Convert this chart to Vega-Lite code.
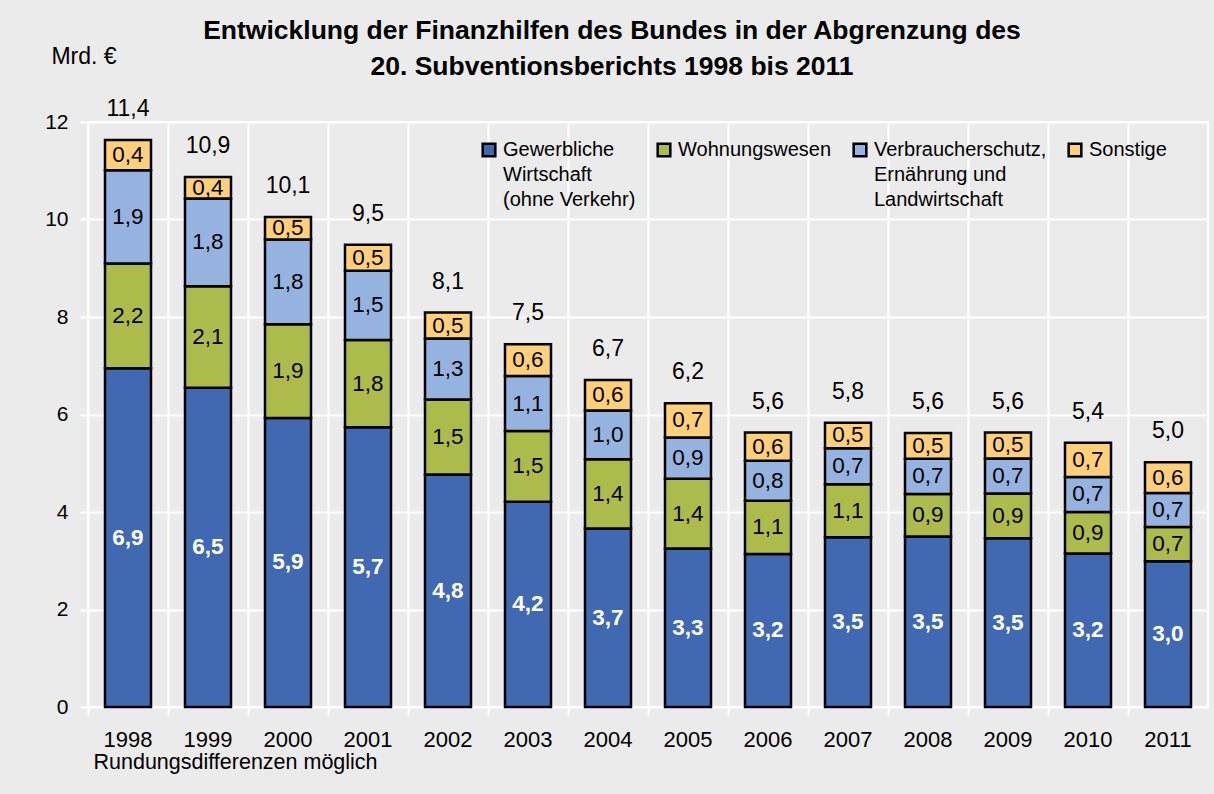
{
  "$schema": "https://vega.github.io/schema/vega-lite/v6.json",
  "width": 1120,
  "height": 585,
  "autosize": "none",
  "padding": {"left": 88, "top": 122, "right": 6, "bottom": 87},
  "background": "#EBEBEB",
  "config": {
    "font": "Liberation Sans",
    "view": {"stroke": "white", "strokeWidth": 2},
    "style": {"guide-label": {"lineHeight": 25}}
  },
  "title": {
    "text": ["Entwicklung der Finanzhilfen des Bundes in der Abgrenzung des", "20. Subventionsberichts 1998 bis 2011"],
    "fontSize": 26.5,
    "fontWeight": "bold",
    "lineHeight": 36,
    "anchor": "middle",
    "offset": 0,
    "dx": -36,
    "dy": 35,
    "color": "black"
  },
  "datasets": {
    "main": [
      {"year": "1998", "cat": "Gewerbliche Wirtschaft (ohne Verkehr)", "k": 1, "value": 6.95, "label": "6,9"},
      {"year": "1998", "cat": "Wohnungswesen", "k": 2, "value": 2.15, "label": "2,2"},
      {"year": "1998", "cat": "Verbraucherschutz, Ernährung und Landwirtschaft", "k": 3, "value": 1.91, "label": "1,9"},
      {"year": "1998", "cat": "Sonstige", "k": 4, "value": 0.62, "label": "0,4"},
      {"year": "1999", "cat": "Gewerbliche Wirtschaft (ohne Verkehr)", "k": 1, "value": 6.55, "label": "6,5"},
      {"year": "1999", "cat": "Wohnungswesen", "k": 2, "value": 2.08, "label": "2,1"},
      {"year": "1999", "cat": "Verbraucherschutz, Ernährung und Landwirtschaft", "k": 3, "value": 1.80, "label": "1,8"},
      {"year": "1999", "cat": "Sonstige", "k": 4, "value": 0.44, "label": "0,4"},
      {"year": "2000", "cat": "Gewerbliche Wirtschaft (ohne Verkehr)", "k": 1, "value": 5.93, "label": "5,9"},
      {"year": "2000", "cat": "Wohnungswesen", "k": 2, "value": 1.92, "label": "1,9"},
      {"year": "2000", "cat": "Verbraucherschutz, Ernährung und Landwirtschaft", "k": 3, "value": 1.74, "label": "1,8"},
      {"year": "2000", "cat": "Sonstige", "k": 4, "value": 0.46, "label": "0,5"},
      {"year": "2001", "cat": "Gewerbliche Wirtschaft (ohne Verkehr)", "k": 1, "value": 5.74, "label": "5,7"},
      {"year": "2001", "cat": "Wohnungswesen", "k": 2, "value": 1.79, "label": "1,8"},
      {"year": "2001", "cat": "Verbraucherschutz, Ernährung und Landwirtschaft", "k": 3, "value": 1.42, "label": "1,5"},
      {"year": "2001", "cat": "Sonstige", "k": 4, "value": 0.53, "label": "0,5"},
      {"year": "2002", "cat": "Gewerbliche Wirtschaft (ohne Verkehr)", "k": 1, "value": 4.77, "label": "4,8"},
      {"year": "2002", "cat": "Wohnungswesen", "k": 2, "value": 1.54, "label": "1,5"},
      {"year": "2002", "cat": "Verbraucherschutz, Ernährung und Landwirtschaft", "k": 3, "value": 1.25, "label": "1,3"},
      {"year": "2002", "cat": "Sonstige", "k": 4, "value": 0.53, "label": "0,5"},
      {"year": "2003", "cat": "Gewerbliche Wirtschaft (ohne Verkehr)", "k": 1, "value": 4.21, "label": "4,2"},
      {"year": "2003", "cat": "Wohnungswesen", "k": 2, "value": 1.45, "label": "1,5"},
      {"year": "2003", "cat": "Verbraucherschutz, Ernährung und Landwirtschaft", "k": 3, "value": 1.13, "label": "1,1"},
      {"year": "2003", "cat": "Sonstige", "k": 4, "value": 0.65, "label": "0,6"},
      {"year": "2004", "cat": "Gewerbliche Wirtschaft (ohne Verkehr)", "k": 1, "value": 3.66, "label": "3,7"},
      {"year": "2004", "cat": "Wohnungswesen", "k": 2, "value": 1.42, "label": "1,4"},
      {"year": "2004", "cat": "Verbraucherschutz, Ernährung und Landwirtschaft", "k": 3, "value": 1.00, "label": "1,0"},
      {"year": "2004", "cat": "Sonstige", "k": 4, "value": 0.63, "label": "0,6"},
      {"year": "2005", "cat": "Gewerbliche Wirtschaft (ohne Verkehr)", "k": 1, "value": 3.25, "label": "3,3"},
      {"year": "2005", "cat": "Wohnungswesen", "k": 2, "value": 1.43, "label": "1,4"},
      {"year": "2005", "cat": "Verbraucherschutz, Ernährung und Landwirtschaft", "k": 3, "value": 0.85, "label": "0,9"},
      {"year": "2005", "cat": "Sonstige", "k": 4, "value": 0.70, "label": "0,7"},
      {"year": "2006", "cat": "Gewerbliche Wirtschaft (ohne Verkehr)", "k": 1, "value": 3.14, "label": "3,2"},
      {"year": "2006", "cat": "Wohnungswesen", "k": 2, "value": 1.09, "label": "1,1"},
      {"year": "2006", "cat": "Verbraucherschutz, Ernährung und Landwirtschaft", "k": 3, "value": 0.82, "label": "0,8"},
      {"year": "2006", "cat": "Sonstige", "k": 4, "value": 0.58, "label": "0,6"},
      {"year": "2007", "cat": "Gewerbliche Wirtschaft (ohne Verkehr)", "k": 1, "value": 3.48, "label": "3,5"},
      {"year": "2007", "cat": "Wohnungswesen", "k": 2, "value": 1.09, "label": "1,1"},
      {"year": "2007", "cat": "Verbraucherschutz, Ernährung und Landwirtschaft", "k": 3, "value": 0.74, "label": "0,7"},
      {"year": "2007", "cat": "Sonstige", "k": 4, "value": 0.52, "label": "0,5"},
      {"year": "2008", "cat": "Gewerbliche Wirtschaft (ohne Verkehr)", "k": 1, "value": 3.50, "label": "3,5"},
      {"year": "2008", "cat": "Wohnungswesen", "k": 2, "value": 0.87, "label": "0,9"},
      {"year": "2008", "cat": "Verbraucherschutz, Ernährung und Landwirtschaft", "k": 3, "value": 0.72, "label": "0,7"},
      {"year": "2008", "cat": "Sonstige", "k": 4, "value": 0.53, "label": "0,5"},
      {"year": "2009", "cat": "Gewerbliche Wirtschaft (ohne Verkehr)", "k": 1, "value": 3.46, "label": "3,5"},
      {"year": "2009", "cat": "Wohnungswesen", "k": 2, "value": 0.92, "label": "0,9"},
      {"year": "2009", "cat": "Verbraucherschutz, Ernährung und Landwirtschaft", "k": 3, "value": 0.72, "label": "0,7"},
      {"year": "2009", "cat": "Sonstige", "k": 4, "value": 0.53, "label": "0,5"},
      {"year": "2010", "cat": "Gewerbliche Wirtschaft (ohne Verkehr)", "k": 1, "value": 3.15, "label": "3,2"},
      {"year": "2010", "cat": "Wohnungswesen", "k": 2, "value": 0.85, "label": "0,9"},
      {"year": "2010", "cat": "Verbraucherschutz, Ernährung und Landwirtschaft", "k": 3, "value": 0.72, "label": "0,7"},
      {"year": "2010", "cat": "Sonstige", "k": 4, "value": 0.70, "label": "0,7"},
      {"year": "2011", "cat": "Gewerbliche Wirtschaft (ohne Verkehr)", "k": 1, "value": 2.99, "label": "3,0"},
      {"year": "2011", "cat": "Wohnungswesen", "k": 2, "value": 0.70, "label": "0,7"},
      {"year": "2011", "cat": "Verbraucherschutz, Ernährung und Landwirtschaft", "k": 3, "value": 0.70, "label": "0,7"},
      {"year": "2011", "cat": "Sonstige", "k": 4, "value": 0.63, "label": "0,6"}
    ],
    "totals": [
      {"year": "1998", "tl": "11,4"},
      {"year": "1999", "tl": "10,9"},
      {"year": "2000", "tl": "10,1"},
      {"year": "2001", "tl": "9,5"},
      {"year": "2002", "tl": "8,1"},
      {"year": "2003", "tl": "7,5"},
      {"year": "2004", "tl": "6,7"},
      {"year": "2005", "tl": "6,2"},
      {"year": "2006", "tl": "5,6"},
      {"year": "2007", "tl": "5,8"},
      {"year": "2008", "tl": "5,6"},
      {"year": "2009", "tl": "5,6"},
      {"year": "2010", "tl": "5,4"},
      {"year": "2011", "tl": "5,0"}
    ]
  },
  "data": {"name": "main"},
  "encoding": {
    "x": {
      "field": "year",
      "type": "ordinal",
      "scale": {"paddingInner": 0, "paddingOuter": 0},
      "axis": {
        "title": "Rundungsdifferenzen möglich",
        "titleFontSize": 21.5,
        "titleFontWeight": "normal",
        "titleColor": "black",
        "titleAlign": "left",
        "titleAnchor": null,
        "titleX": 5,
        "titleY": 61,
        "titleBaseline": "alphabetic",
        "labelAngle": 0,
        "labelFontSize": 22,
        "labelColor": "black",
        "labelPadding": 13,
        "bandPosition": 0,
        "tickSize": 9,
        "tickColor": "white",
        "tickWidth": 2,
        "grid": true,
        "gridColor": "white",
        "gridWidth": 2,
        "gridOpacity": 1,
        "domain": false
      }
    }
  },
  "layer": [
    {
      "mark": {"type": "bar", "width": {"band": 0.575}, "stroke": "black", "strokeWidth": 2.5},
      "encoding": {
        "y": {
          "field": "value",
          "type": "quantitative",
          "stack": "zero",
          "scale": {"domain": [0, 12], "nice": false},
          "axis": {
            "values": [0, 2, 4, 6, 8, 10, 12],
            "title": "Mrd. €",
            "titleAngle": 0,
            "titleAlign": "center",
            "titleBaseline": "alphabetic",
            "titleX": -4.5,
            "titleY": -59,
            "titleFontSize": 23,
            "titleFontWeight": "normal",
            "titleColor": "black",
            "labelFontSize": 21,
            "labelColor": "black",
            "labelPadding": 12,
            "tickSize": 8,
            "tickColor": "white",
            "tickWidth": 2,
            "grid": true,
            "gridColor": "white",
            "gridWidth": 2,
            "gridOpacity": 1,
            "domain": false
          }
        },
        "color": {
          "field": "cat",
          "type": "nominal",
          "sort": ["Gewerbliche Wirtschaft (ohne Verkehr)", "Wohnungswesen", "Verbraucherschutz, Ernährung und Landwirtschaft", "Sonstige"],
          "scale": {
            "domain": ["Gewerbliche Wirtschaft (ohne Verkehr)", "Wohnungswesen", "Verbraucherschutz, Ernährung und Landwirtschaft", "Sonstige"],
            "range": ["#4169B2", "#ADBA4C", "#95B3DE", "#FFCF79"]
          },
          "legend": {
            "title": null,
            "orient": "none",
            "legendX": 391,
            "legendY": 18,
            "direction": "horizontal",
            "columns": 4,
            "gridAlign": "none",
            "columnPadding": 16,
            "symbolType": "square",
            "symbolSize": 160,
            "symbolStrokeColor": "black",
            "symbolStrokeWidth": 2.5,
            "symbolOpacity": 1,
            "labelFontSize": 20,
            "labelColor": "black",
            "labelOffset": 4,
            "labelLimit": 400,
            "labelBaseline": "middle",
            "labelExpr": "datum.label == 'Gewerbliche Wirtschaft (ohne Verkehr)' ? ['Gewerbliche', 'Wirtschaft', '(ohne Verkehr)'] : datum.label == 'Verbraucherschutz, Ernährung und Landwirtschaft' ? ['Verbraucherschutz,', 'Ernährung und', 'Landwirtschaft'] : datum.label"
          }
        },
        "order": {"field": "k", "type": "quantitative"}
      }
    },
    {
      "transform": [
        {"stack": "value", "groupby": ["year"], "sort": [{"field": "k", "order": "ascending"}], "as": ["y0", "y1"]},
        {"fold": ["y0", "y1"], "as": ["edge", "pos"]},
        {"aggregate": [{"op": "mean", "field": "pos", "as": "mid"}], "groupby": ["year", "k", "label"]},
        {"filter": "datum.k == 1"}
      ],
      "mark": {"type": "text", "fontSize": 22.5, "fontWeight": "bold", "color": "white", "baseline": "middle"},
      "encoding": {
        "y": {"field": "mid", "type": "quantitative", "stack": null},
        "text": {"field": "label"}
      }
    },
    {
      "transform": [
        {"stack": "value", "groupby": ["year"], "sort": [{"field": "k", "order": "ascending"}], "as": ["y0", "y1"]},
        {"fold": ["y0", "y1"], "as": ["edge", "pos"]},
        {"aggregate": [{"op": "mean", "field": "pos", "as": "mid"}], "groupby": ["year", "k", "label"]},
        {"filter": "datum.k > 1"}
      ],
      "mark": {"type": "text", "fontSize": 22.5, "color": "black", "baseline": "middle"},
      "encoding": {
        "y": {"field": "mid", "type": "quantitative", "stack": null},
        "text": {"field": "label"}
      }
    },
    {
      "transform": [
        {"aggregate": [{"op": "sum", "field": "value", "as": "top"}], "groupby": ["year"]},
        {"lookup": "year", "from": {"data": {"name": "totals"}, "key": "year", "fields": ["tl"]}}
      ],
      "mark": {"type": "text", "fontSize": 23, "color": "black", "baseline": "middle", "dy": -31},
      "encoding": {
        "y": {"field": "top", "type": "quantitative", "stack": null},
        "text": {"field": "tl"}
      }
    }
  ]
}
